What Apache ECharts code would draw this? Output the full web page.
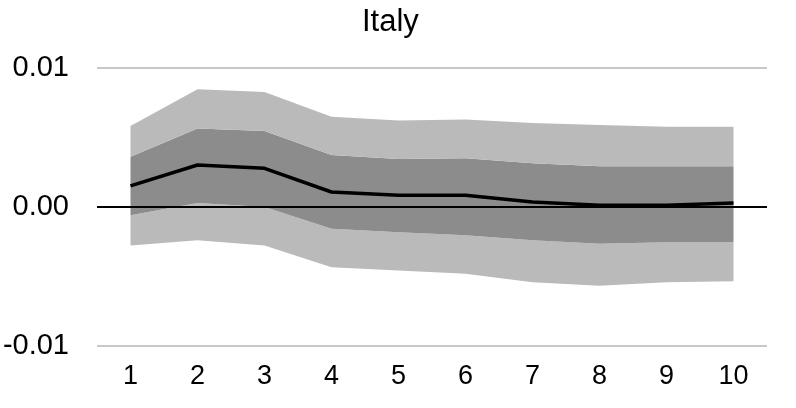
<!DOCTYPE html>
<html>
<head>
<meta charset="utf-8">
<script src="https://cdn.jsdelivr.net/npm/echarts@6/dist/echarts.min.js"></script>
<style>html,body{margin:0;padding:0;background:#fff;}#c{width:796px;height:408px;}</style>
</head>
<body>
<div id="c"></div>
<script>
const categories = ['1','2','3','4','5','6','7','8','9','10'];
const outerLower = [-0.00277,-0.00240,-0.00277,-0.00434,-0.00457,-0.00481,-0.00542,-0.00566,-0.00542,-0.00535];
const innerLower = [-0.00060,0.00029,0.00000,-0.00156,-0.00181,-0.00204,-0.00240,-0.00264,-0.00253,-0.00253];
const innerUpper = [0.00361,0.00564,0.00546,0.00374,0.00345,0.00350,0.00314,0.00294,0.00294,0.00294];
const outerUpper = [0.00583,0.00848,0.00827,0.00650,0.00622,0.00629,0.00605,0.00590,0.00578,0.00578];
const response   = [0.00152,0.00302,0.00278,0.00108,0.00085,0.00085,0.00036,0.00012,0.00012,0.00029];
const yTicks = [-0.01, 0, 0.01];

const diff = (a, b) => a.map((v, i) => v - b[i]);
const FONT = 'Liberation Sans, Arial, sans-serif';
const band = (name, data, color) => ({
  name, type: 'line', stack: 'band', stackStrategy: 'all', data,
  symbol: 'none', lineStyle: { width: 0, opacity: 0 },
  areaStyle: { color, opacity: 1 }, silent: true, z: 1
});

const chart = echarts.init(document.getElementById('c'), null, { renderer: 'canvas' });
chart.setOption({
  animation: false,
  backgroundColor: '#fff',
  title: {
    text: 'Italy', left: 362, top: 7, padding: 0,
    textStyle: { fontFamily: FONT, fontSize: 31, fontWeight: 'normal', color: '#000' }
  },
  grid: { left: 97, right: 29, top: 68, bottom: 62, containLabel: false, outerBoundsMode: 'none' },
  xAxis: {
    type: 'category', data: categories, boundaryGap: true,
    axisLine: { show: false }, axisTick: { show: false },
    axisLabel: { fontFamily: FONT, fontSize: 27, color: '#000', margin: 17 }
  },
  yAxis: {
    type: 'value', min: yTicks[0], max: yTicks[yTicks.length - 1], interval: 0.01,
    axisLine: { show: false }, axisTick: { show: false },
    splitLine: { lineStyle: { color: '#c8c8c8', width: 2 } },
    axisLabel: { fontFamily: FONT, fontSize: 29, color: '#000', margin: 28,
      formatter: v => v.toFixed(2) }
  },
  series: [
    { name: 'base', type: 'line', stack: 'band', stackStrategy: 'all', data: outerLower,
      symbol: 'none', lineStyle: { width: 0, opacity: 0 }, silent: true },
    band('outerLow', diff(innerLower, outerLower), '#bababa'),
    band('inner', diff(innerUpper, innerLower), '#8c8c8c'),
    band('outerHigh', diff(outerUpper, innerUpper), '#bababa'),
    { name: 'response', type: 'line', data: response, symbol: 'none', z: 5,
      lineStyle: { color: '#000', width: 3.5 },
      markLine: { silent: true, symbol: 'none', label: { show: false },
        lineStyle: { color: '#000', width: 2, type: 'solid' },
        data: [{ yAxis: 0 }] } }
  ]
});
</script>
</body>
</html>
